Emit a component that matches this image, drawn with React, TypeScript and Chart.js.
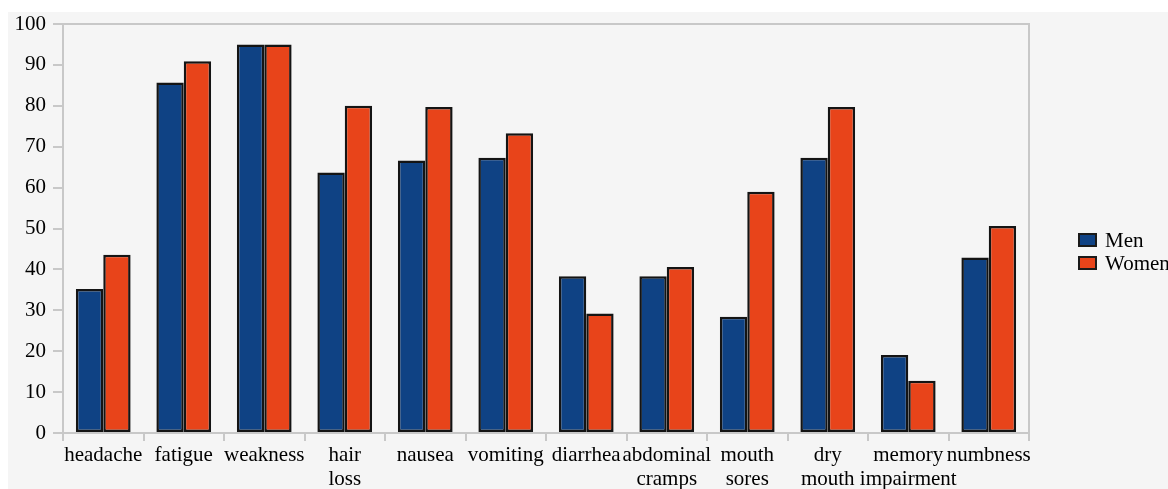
import React, { useEffect, useRef } from "react";
import { Chart, registerables } from "chart.js";

Chart.register(...registerables);

const categories: (string | string[])[] = [
  "headache",
  "fatigue",
  "weakness",
  ["hair", "loss"],
  "nausea",
  "vomiting",
  "diarrhea",
  ["abdominal", "cramps"],
  ["mouth", "sores"],
  ["dry", "mouth"],
  ["memory", "impairment"],
  "numbness",
];
const menValues = [35.2, 85.7, 95.0, 63.7, 66.6, 67.3, 38.3, 38.3, 28.4, 67.3, 19.1, 42.9];
const womenValues = [43.6, 90.9, 95.0, 80.0, 79.7, 73.3, 29.2, 40.6, 59.0, 79.7, 12.8, 50.6];
const yTicks = [0, 10, 20, 30, 40, 50, 60, 70, 80, 90, 100];

const FONT = "'Liberation Serif', 'Times New Roman', serif";

export default function App() {
  const ref = useRef<HTMLCanvasElement | null>(null);
  useEffect(() => {
    if (!ref.current) return;
    const bgPlugin = {
      id: "bg",
      beforeDraw(chart: any) {
        const { ctx, width, height } = chart;
        ctx.save();
        ctx.fillStyle = "#ffffff";
        ctx.fillRect(0, 0, width, height);
        ctx.fillStyle = "#f5f5f5";
        ctx.fillRect(8, 12, width - 8, height - 12);
        ctx.restore();
      },
      afterDatasetsDraw(chart: any) {
        const { ctx, chartArea } = chart;
        ctx.save();
        ctx.strokeStyle = "#c8c8c8";
        ctx.lineWidth = 2;
        ctx.beginPath();
        ctx.moveTo(chartArea.left, chartArea.top);
        ctx.lineTo(chartArea.right, chartArea.top);
        ctx.lineTo(chartArea.right, chartArea.bottom);
        ctx.stroke();
        ctx.restore();
      },
      afterDraw(chart: any) {
        const { ctx } = chart;
        ctx.save();
        ctx.font = `21px ${FONT}`;
        ctx.textBaseline = "middle";
        chart.data.datasets.forEach((ds: any, i: number) => {
          const y = 240 + i * 23;
          ctx.fillStyle = ds.backgroundColor;
          ctx.strokeStyle = "#1a1a1a";
          ctx.lineWidth = 2;
          ctx.beginPath();
          ctx.rect(1079, y - 6, 17, 12);
          ctx.fill();
          ctx.stroke();
          ctx.fillStyle = "#000";
          ctx.fillText(ds.label, 1105, y + 1);
        });
        ctx.restore();
      },
    };
    const chart = new Chart(ref.current, {
      type: "bar",
      data: {
        labels: categories as any,
        datasets: [
          {
            label: "Men",
            data: menValues,
            backgroundColor: "#0f4284",
            borderColor: "#141414",
            borderWidth: 2.5,
            borderSkipped: false,
          },
          {
            label: "Women",
            data: womenValues,
            backgroundColor: "#e8441a",
            borderColor: "#141414",
            borderWidth: 2.5,
            borderSkipped: false,
          },
        ],
      },
      options: {
        responsive: false,
        animation: false,
        devicePixelRatio: 1,
        layout: { padding: { left: 0, top: 24, right: 139, bottom: 0 } },
        datasets: { bar: { categoryPercentage: 0.68, barPercentage: 1.0 } },
        plugins: {
          legend: { display: false },
          tooltip: { enabled: false },
        },
        scales: {
          x: {
            grid: {
              display: true,
              drawOnChartArea: false,
              drawTicks: true,
              tickLength: 8,
              color: "#c8c8c8",
              lineWidth: 2,
              offset: true,
            },
            border: { display: true, color: "#c8c8c8", width: 2 },
            ticks: {
              color: "#000",
              font: { family: FONT, size: 21, lineHeight: 1.15 },
              padding: 2,
              maxRotation: 0,
              autoSkip: false,
            },
            afterFit(s: any) {
              s.height = 56;
            },
          },
          y: {
            min: 0,
            max: 100,
            afterBuildTicks(s: any) {
              s.ticks = yTicks.map((v) => ({ value: v }));
            },
            grid: {
              display: true,
              drawOnChartArea: false,
              drawTicks: true,
              tickLength: 10,
              color: "#c8c8c8",
              lineWidth: 2,
            },
            border: { display: true, color: "#c8c8c8", width: 2 },
            ticks: {
              color: "#000",
              font: { family: FONT, size: 21 },
              padding: 7,
            },
            afterFit(s: any) {
              s.width = 63;
            },
          },
        },
      },
      plugins: [bgPlugin],
    });
    return () => chart.destroy();
  }, []);
  return (
    <div style={{ position: "fixed", left: 0, top: 0, width: 1168, height: 489, overflow: "hidden" }}>
      <canvas ref={ref} width={1168} height={489} style={{ display: "block", width: 1168, height: 489 }} />
    </div>
  );
}
